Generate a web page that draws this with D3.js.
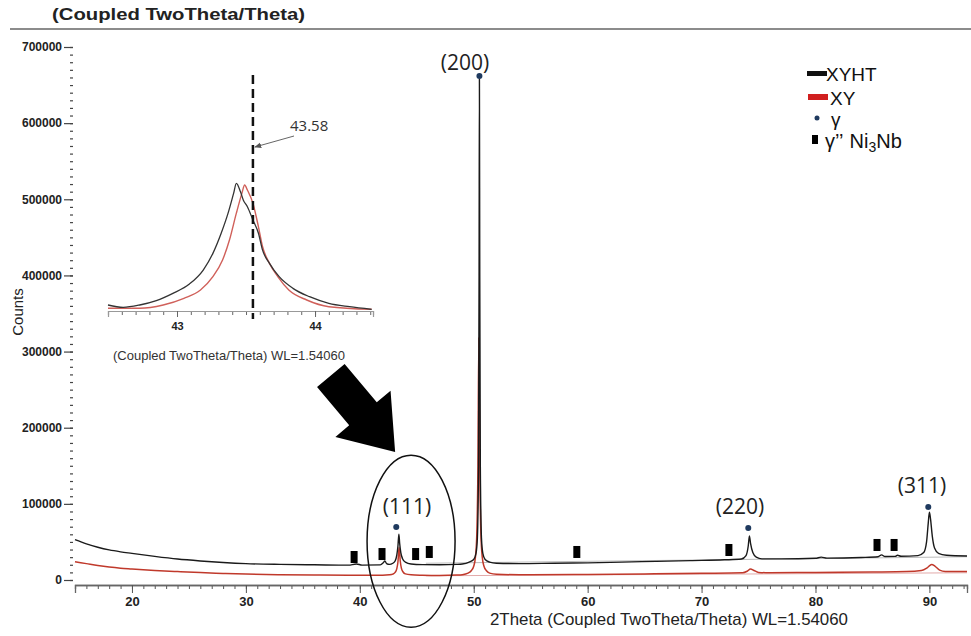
<!DOCTYPE html>
<html>
<head>
<meta charset="utf-8">
<script src="https://cdn.jsdelivr.net/npm/d3@7"></script>
<style>
body { margin: 0; background: #fff; }
svg { display: block; }
.tick text { font-family: "Liberation Sans Narrow", "Liberation Sans", Arial, sans-serif; fill: #222; }
</style>
</head>
<body>
<svg width="971" height="636"></svg>
<script>
// XYHT scan (black) : [2theta, counts]
var xyht = [
  [15.0, 53000], [16, 47500], [17, 43000], [18, 39500], [19, 37000], [20, 35000], [22, 31000],
  [24, 27500], [26, 25000], [28, 23000], [30, 21500], [33, 20500], [36, 20000], [39, 19500],
  [39.7, 21000], [40.2, 19600], [41.8, 19800], [42.05, 22500], [42.2, 25000], [42.35, 21500],
  [42.6, 20500], [42.9, 22000], [43.1, 25000], [43.25, 33000], [43.35, 45000], [43.43, 60000],
  [43.5, 48000], [43.6, 36000], [43.75, 28000], [44.0, 23500], [44.5, 21000], [45.5, 20200],
  [47, 20000], [48.5, 20500], [49.0, 21000], [49.6, 23500], [50.0, 27000], [50.2, 35000],
  [50.32, 55000], [50.42, 150000], [50.47, 400000], [50.5, 658000], [50.53, 400000],
  [50.58, 150000], [50.68, 55000], [50.8, 35000], [51.0, 27000], [51.4, 23500], [52.0, 22000],
  [54, 21500], [57, 22000], [60, 22500], [63, 23500], [66, 24500], [69, 25500], [72, 26500],
  [73.5, 27500], [73.9, 32000], [74.1, 45000], [74.2, 58000], [74.3, 48000], [74.5, 36000],
  [74.8, 30000], [75.3, 27800], [77, 27800], [80, 28500], [80.5, 30000], [81, 28700],
  [84, 29500], [85.5, 30500], [85.8, 33000], [86.1, 30800], [87, 31000], [87.2, 32500],
  [87.5, 31200], [89, 32000], [89.5, 36000], [89.75, 50000], [89.9, 75000], [90.0, 89000],
  [90.1, 80000], [90.25, 58000], [90.45, 42000], [90.8, 35000], [91.5, 32500], [93.3, 31500]
];

// XY scan (red)
var xy = [
  [15.0, 24000], [16, 21500], [17, 19000], [18, 17000], [19, 15500], [20, 14500], [22, 12500],
  [24, 11000], [26, 9700], [28, 8700], [30, 7800], [33, 7000], [36, 6500], [39, 6200],
  [42, 6200], [42.6, 6800], [42.9, 7800], [43.1, 10000], [43.25, 15000], [43.35, 24000],
  [43.45, 43000], [43.55, 25000], [43.65, 15500], [43.8, 10500], [44.0, 8000], [44.5, 6800],
  [45.5, 6300], [47, 6000], [48.5, 6500], [49.0, 7000], [49.5, 9000], [49.8, 12500],
  [50.0, 18000], [50.15, 30000], [50.27, 60000], [50.37, 150000], [50.45, 318000],
  [50.53, 150000], [50.63, 60000], [50.75, 30000], [50.9, 18000], [51.1, 12500], [51.4, 9000],
  [52.0, 7500], [55, 6800], [60, 7300], [65, 8000], [70, 8800], [73.6, 9400], [74.0, 11500],
  [74.3, 14500], [74.6, 12500], [75.0, 10000], [76, 9500], [80, 10000], [85, 10500],
  [88, 11000], [89.3, 12500], [89.8, 16000], [90.2, 20500], [90.5, 18000], [90.9, 13000],
  [91.4, 11200], [93.3, 11000]
];

// background lines under each scan
var bgXYHT = [[45.8, 22000], [93.3, 30500]];
var bgXY = [[45.8, 5500], [93.3, 9500]];

// inset, zoom on the (111) peak
var insetXYHT = [
  [42.50, 2160], [42.61, 1450], [42.73, 2160], [42.85, 3500], [42.97, 5760], [43.09, 8640],
  [43.19, 12960], [43.26, 18100], [43.32, 24300], [43.37, 30500], [43.41, 36600], [43.43, 39700],
  [43.46, 37100], [43.48, 34600], [43.51, 32500], [43.55, 28400], [43.59, 24300], [43.62, 19100],
  [43.67, 15000], [43.74, 10900], [43.84, 7300], [43.96, 4720], [44.10, 2690], [44.25, 1640],
  [44.41, 830]
];
var insetXY = [
  [42.50, 1140], [42.73, 1140], [42.90, 2160], [43.05, 4220], [43.17, 6790], [43.26, 10900],
  [43.33, 16050], [43.38, 22200], [43.43, 30500], [43.47, 36600], [43.49, 39200], [43.51, 37650],
  [43.55, 33550], [43.59, 26300], [43.62, 20150], [43.67, 15000], [43.73, 10900], [43.81, 6790],
  [43.94, 3700], [44.10, 1640], [44.41, 830]
];
var insetMark = 43.55;
var insetMarkLabel = "43.58";

// phase markers
var gammaPeaks = [[43.2, 69600], [50.5, 662000], [74.1, 68300], [89.9, 95900]];
var gammaPP = [[39.5, 30200], [41.95, 34100], [44.9, 34100], [46.1, 36800], [59.05, 36800],
  [72.4, 39400], [85.4, 46000], [86.9, 46000]];
var peakLabels = [
  { hkl: "(111)", theta: 44.14, counts: 86700 },
  { hkl: "(200)", theta: 49.23, counts: 669800 },
  { hkl: "(220)", theta: 73.37, counts: 86700 },
  { hkl: "(311)", theta: 89.35, counts: 114300 }
];
var xMajor = [20, 30, 40, 50, 60, 70, 80, 90];
var yMajor = [0, 100000, 200000, 300000, 400000, 500000, 600000, 700000];

var svg = d3.select("svg");
var labelFont = "'Open Sans', 'Noto Sans', sans-serif";

var x = d3.scaleLinear().domain([15, 93.3]).range([75, 967]);
var y = d3.scaleLinear().domain([0, 700000]).range([580, 47]);

// header
svg.append("text")
    .attr("x", 52).attr("y", 20)
    .attr("font-family", "'Liberation Sans', Arial, sans-serif")
    .attr("font-weight", "bold").attr("font-size", 17)
    .attr("textLength", 253).attr("lengthAdjust", "spacingAndGlyphs")
    .attr("fill", "#222")
    .text("(Coupled TwoTheta/Theta)");
svg.append("line")
    .attr("x1", 10).attr("x2", 971).attr("y1", 29).attr("y2", 29)
    .attr("stroke", "#666").attr("stroke-width", 1.5);

// x axis
var xAxisG = svg.append("g").attr("transform", "translate(0,585)");
xAxisG.call(d3.axisBottom(x).tickValues(d3.range(15, 94, 1)).tickSize(4).tickFormat(""));
xAxisG.append("g").call(d3.axisBottom(x).tickValues(xMajor).tickSize(8).tickPadding(4)
    .tickFormat(d3.format("d")));
xAxisG.selectAll("path.domain").attr("stroke", "#666").attr("stroke-width", 1.3);
xAxisG.selectAll(".tick line").attr("stroke", "#555");
xAxisG.selectAll(".tick text").attr("font-size", 13).attr("font-weight", "bold");

svg.append("text")
    .attr("x", 490).attr("y", 625)
    .attr("font-family", "'Liberation Sans Narrow', 'Liberation Sans', Arial, sans-serif")
    .attr("font-size", 17)
    .attr("textLength", 358).attr("lengthAdjust", "spacingAndGlyphs")
    .attr("fill", "#222")
    .text("2Theta (Coupled TwoTheta/Theta) WL=1.54060");

// y axis
var yAxisG = svg.append("g").attr("transform", "translate(73,0)");
yAxisG.call(d3.axisLeft(y).tickValues(d3.range(0, 700001, 10000)).tickSize(3).tickFormat(""));
yAxisG.append("g").call(d3.axisLeft(y).tickValues(yMajor).tickSize(9).tickPadding(2)
    .tickFormat(d3.format("d")));
yAxisG.selectAll("path.domain").remove();
yAxisG.selectAll(".tick line").attr("stroke", "#444").attr("stroke-width", 1.2);
yAxisG.selectAll(".tick text").attr("font-size", 12).attr("font-weight", "bold")
    .attr("font-family", "'Liberation Sans', Arial, sans-serif");

svg.append("text")
    .attr("transform", "translate(23,312) rotate(-90)")
    .attr("text-anchor", "middle")
    .attr("font-family", "'Liberation Sans', Arial, sans-serif")
    .attr("font-size", 15).attr("fill", "#222")
    .text("Counts");

// scans
var line = d3.line()
    .x(function (d) { return x(d[0]); })
    .y(function (d) { return y(d[1]); })
    .curve(d3.curveMonotoneX);

svg.append("path").datum(bgXYHT).attr("d", line)
    .attr("fill", "none").attr("stroke", "#bbb").attr("stroke-width", 1);
svg.append("path").datum(bgXY).attr("d", line)
    .attr("fill", "none").attr("stroke", "#e2aaaa").attr("stroke-width", 1);

svg.append("path").datum(xy).attr("d", line)
    .attr("fill", "none").attr("stroke", "#c0392b").attr("stroke-width", 1.5);
svg.append("path").datum(xyht).attr("d", line)
    .attr("fill", "none").attr("stroke", "#1a1a1a").attr("stroke-width", 1.4);

// markers
svg.append("g").selectAll("rect")
    .data(gammaPP)
    .enter().append("rect")
    .attr("x", function (d) { return x(d[0]) - 3.5; })
    .attr("y", function (d) { return y(d[1]) - 6; })
    .attr("width", 7).attr("height", 12)
    .attr("fill", "#000");

svg.append("g").selectAll("circle")
    .data(gammaPeaks)
    .enter().append("circle")
    .attr("cx", function (d) { return x(d[0]); })
    .attr("cy", function (d) { return y(d[1]); })
    .attr("r", 3).attr("fill", "#1f3a5f");

svg.append("g").selectAll("text")
    .data(peakLabels)
    .enter().append("text")
    .attr("x", function (d) { return x(d.theta); })
    .attr("y", function (d) { return y(d.counts); })
    .attr("text-anchor", "middle")
    .attr("font-family", labelFont).attr("font-size", 21).attr("fill", "#222")
    .text(function (d) { return d.hkl; });

// ellipse round the (111) peak
svg.append("ellipse")
    .attr("cx", x(44.5)).attr("cy", y(51000))
    .attr("rx", 44).attr("ry", 86)
    .attr("fill", "none").attr("stroke", "#111").attr("stroke-width", 1.5);

// big arrow towards the (111) peak
function arrowPoints(tx, ty, angle, headLen, headHalf, shaftHalf, shaftLen) {
    var a = angle * Math.PI / 180,
        ux = Math.cos(a), uy = Math.sin(a),
        nx = -uy, ny = ux,
        bx = tx - headLen * ux, by = ty - headLen * uy,
        sx = bx - shaftLen * ux, sy = by - shaftLen * uy;
    return [[tx, ty], [bx + headHalf * nx, by + headHalf * ny], [bx + shaftHalf * nx, by + shaftHalf * ny],
        [sx + shaftHalf * nx, sy + shaftHalf * ny], [sx - shaftHalf * nx, sy - shaftHalf * ny],
        [bx - shaftHalf * nx, by - shaftHalf * ny], [bx - headHalf * nx, by - headHalf * ny]];
}
svg.append("polygon")
    .attr("points", arrowPoints(x(43.1), y(168000), 50, 50, 36, 18, 50).join(" "))
    .attr("fill", "#000");

// legend
var legend = svg.append("g")
    .attr("font-family", "'Liberation Sans', Arial, sans-serif")
    .attr("font-size", 19).attr("fill", "#111");
legend.append("rect").attr("x", 807).attr("y", 71).attr("width", 20).attr("height", 5).attr("fill", "#111");
legend.append("text").attr("x", 826).attr("y", 81).text("XYHT");
legend.append("rect").attr("x", 808).attr("y", 94).attr("width", 20).attr("height", 6).attr("fill", "#d11f1f");
legend.append("text").attr("x", 830).attr("y", 105).text("XY");
legend.append("circle").attr("cx", 817).attr("cy", 118).attr("r", 2.5).attr("fill", "#1f3a5f");
legend.append("text").attr("x", 831).attr("y", 126).text("γ");
legend.append("rect").attr("x", 812).attr("y", 135).attr("width", 6).attr("height", 9).attr("fill", "#000");
var lt = legend.append("text").attr("x", 825).attr("y", 148).attr("font-size", 20);
lt.append("tspan").text("γ’’");
lt.append("tspan").attr("dx", 6).text("Ni");
lt.append("tspan").attr("font-size", 14).attr("dy", 4).text("3");
lt.append("tspan").attr("dy", -4).text("Nb");

// inset
var ix = d3.scaleLinear().domain([42.5, 44.42]).range([108, 373]);
var iy = d3.scaleLinear().domain([0, 50000]).range([312, 150]);
var inset = svg.append("g");

var iAxis = inset.append("g").attr("transform", "translate(0,311)");
iAxis.call(d3.axisBottom(ix).tickValues(d3.range(42.5, 44.45, 0.1)).tickSize(4).tickFormat(""));
iAxis.append("g").call(d3.axisBottom(ix).tickValues([43, 44]).tickSize(6).tickPadding(5)
    .tickFormat(d3.format("d")));
iAxis.selectAll("path.domain").attr("stroke", "#999").attr("stroke-width", 1.2);
iAxis.selectAll(".tick line").attr("stroke", "#666");
iAxis.selectAll(".tick text").attr("font-size", 11).attr("font-weight", "bold");

var iline = d3.line()
    .x(function (d) { return ix(d[0]); })
    .y(function (d) { return iy(d[1]); })
    .curve(d3.curveMonotoneX);
inset.append("path").datum(insetXY).attr("d", iline)
    .attr("fill", "none").attr("stroke", "#d0605a").attr("stroke-width", 1.4);
inset.append("path").datum(insetXYHT).attr("d", iline)
    .attr("fill", "none").attr("stroke", "#333").attr("stroke-width", 1.3);

inset.append("line")
    .attr("x1", ix(insetMark)).attr("x2", ix(insetMark))
    .attr("y1", 75).attr("y2", 319)
    .attr("stroke", "#111").attr("stroke-width", 2.5)
    .attr("stroke-dasharray", "9,5");

svg.append("defs").append("marker")
    .attr("id", "ah").attr("viewBox", "0 0 10 10")
    .attr("refX", 9).attr("refY", 5)
    .attr("markerWidth", 7).attr("markerHeight", 7)
    .attr("orient", "auto")
    .append("path").attr("d", "M0,1 L10,5 L0,9 Z").attr("fill", "#555");
inset.append("line")
    .attr("x1", 294).attr("y1", 136)
    .attr("x2", ix(insetMark) + 2).attr("y2", 147)
    .attr("stroke", "#666").attr("stroke-width", 1)
    .attr("marker-end", "url(#ah)");
inset.append("text")
    .attr("x", 290).attr("y", 131)
    .attr("font-family", labelFont).attr("font-size", 15).attr("fill", "#333")
    .text(insetMarkLabel);

inset.append("text")
    .attr("x", 113).attr("y", 360)
    .attr("font-family", "'Liberation Sans Narrow', 'Liberation Sans', Arial, sans-serif")
    .attr("font-size", 13)
    .attr("textLength", 232).attr("lengthAdjust", "spacingAndGlyphs")
    .attr("fill", "#333")
    .text("(Coupled TwoTheta/Theta) WL=1.54060");
</script>
</body>
</html>
